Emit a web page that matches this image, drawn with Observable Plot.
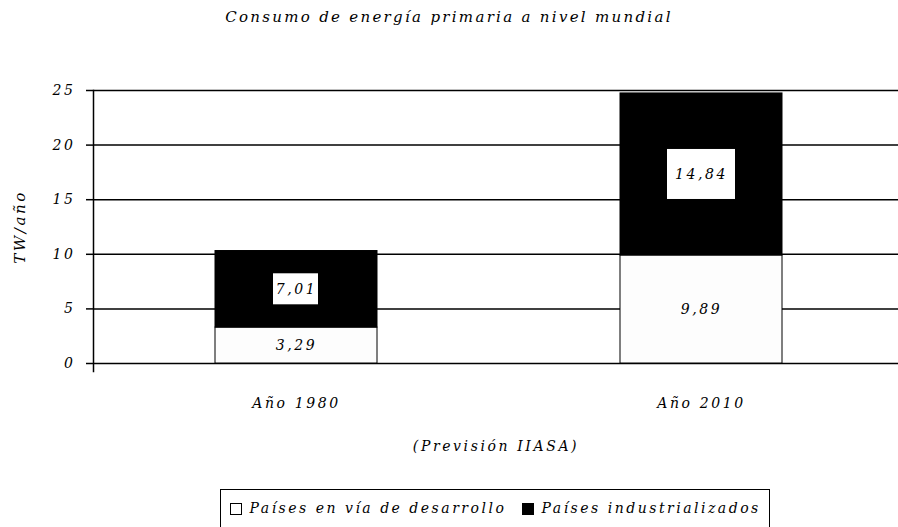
<!DOCTYPE html>
<html><head><meta charset="utf-8">
<script src="https://cdn.jsdelivr.net/npm/d3@7"></script>
<script src="https://cdn.jsdelivr.net/npm/@observablehq/plot@0.6"></script>
<style>
html,body{margin:0;padding:0;background:#fff;}
body{width:898px;height:527px;overflow:hidden;position:relative;font-family:"DejaVu Serif",serif;font-style:italic;color:#000;}
#title{position:absolute;left:0;top:8px;width:898px;text-align:center;font-size:15px;letter-spacing:2.3px;}
#chart{position:absolute;left:0;top:40px;}
#legend{position:absolute;left:220px;top:489px;width:550px;height:60px;border:1.5px solid #000;box-sizing:border-box;}
.item{position:absolute;top:10px;font-size:14px;line-height:17px;letter-spacing:2.5px;display:flex;align-items:center;white-space:nowrap;}
.sw{display:inline-block;width:12px;height:12px;border:1px solid #000;margin-right:8px;box-sizing:border-box;}
</style></head><body>
<div id="title"></div>
<div id="chart"></div>
<div id="legend"></div>
<script>
// ---- data ----
const titleText = "Consumo de energía primaria a nivel mundial";
const categories = ["Año 1980", "Año 2010"];
const seriesNames = ["Países en vía de desarrollo", "Países industrializados"];
const desarrollo = [3.29, 9.89];
const industrializados = [7.01, 14.84];
const yTicks = [0, 5, 10, 15, 20, 25];
const yLabel = "TW/año";
const xLabel = "(Previsión IIASA)";
const seriesFills = ["#fdfdfd", "#000000"];

// ---- build rows ----
const fmt = v => v.toFixed(2).replace(".", ",");
const rows = [];
categories.forEach((c, i) => {
  const a = desarrollo[i], b = industrializados[i];
  rows.push({cat: c, serie: seriesNames[0], y1: 0, y2: a, mid: a / 2, label: fmt(a)});
  rows.push({cat: c, serie: seriesNames[1], y1: a, y2: a + b, mid: a + b / 2, label: fmt(b)});
});
const darkRows = rows.filter(r => r.serie === seriesNames[1]);
const box1980 = darkRows.filter(r => r.cat === categories[0]).map(r => ({...r, b1: r.mid - 1.42, b2: r.mid + 1.42}));
const box2010 = darkRows.filter(r => r.cat === categories[1]).map(r => ({...r, b1: r.mid - 2.29, b2: r.mid + 2.29}));

document.getElementById("title").textContent = titleText;

const plot = Plot.plot({
  width: 898, height: 440,
  marginLeft: 93, marginRight: 0, marginTop: 50, marginBottom: 117,
  style: {fontFamily: "DejaVu Serif", fontStyle: "italic", fontSize: "14px", background: "#fff", color: "#000", letterSpacing: "2.6px"},
  x: {domain: categories, range: [93, 904], paddingInner: 0.6, paddingOuter: 0.3, axis: null},
  y: {domain: [0, 25], axis: null},
  color: {domain: seriesNames, range: seriesFills},
  marks: [
    Plot.ruleY(yTicks, {stroke: "#000", strokeWidth: 1.5}),
    Plot.barY(rows, {x: "cat", y1: "y1", y2: "y2", fill: "serie", stroke: "#000", strokeWidth: 1}),
    Plot.barY(box1980, {x: "cat", y1: "b1", y2: "b2", fill: "#fff", insetLeft: 58, insetRight: 59}),
    Plot.barY(box2010, {x: "cat", y1: "b1", y2: "b2", fill: "#fff", insetLeft: 47, insetRight: 47}),
    Plot.text(rows, {x: "cat", y: "mid", text: "label", fill: "#000", fontSize: 14}),
    Plot.axisY({ticks: yTicks, tickSize: 7, tickPadding: 11, tickFormat: d => String(d), label: null, strokeWidth: 1.5, fontSize: 14}),
    Plot.frame({anchor: "left", insetBottom: -8, strokeWidth: 1.5}),
    Plot.text(categories, {x: d => d, frameAnchor: "bottom", dy: 44, text: d => d, fontSize: 14}),
    Plot.text([xLabel], {frameAnchor: "bottom", dy: 87, text: d => d, fontSize: 14}),
    Plot.text([yLabel], {frameAnchor: "left", textAnchor: "middle", dx: -73, rotate: -90, text: d => d, fontSize: 15})
  ]
});
document.getElementById("chart").appendChild(plot);

// ---- legend ----
const legend = document.getElementById("legend");
const lx = [8.5, 300.5];
seriesNames.forEach((name, i) => {
  const it = document.createElement("div");
  it.className = "item";
  it.style.left = lx[i] + "px";
  const sw = document.createElement("span");
  sw.className = "sw";
  sw.style.background = i === 0 ? "#fff" : "#000";
  it.appendChild(sw);
  it.appendChild(document.createTextNode(name));
  legend.appendChild(it);
});
</script>
</body></html>
